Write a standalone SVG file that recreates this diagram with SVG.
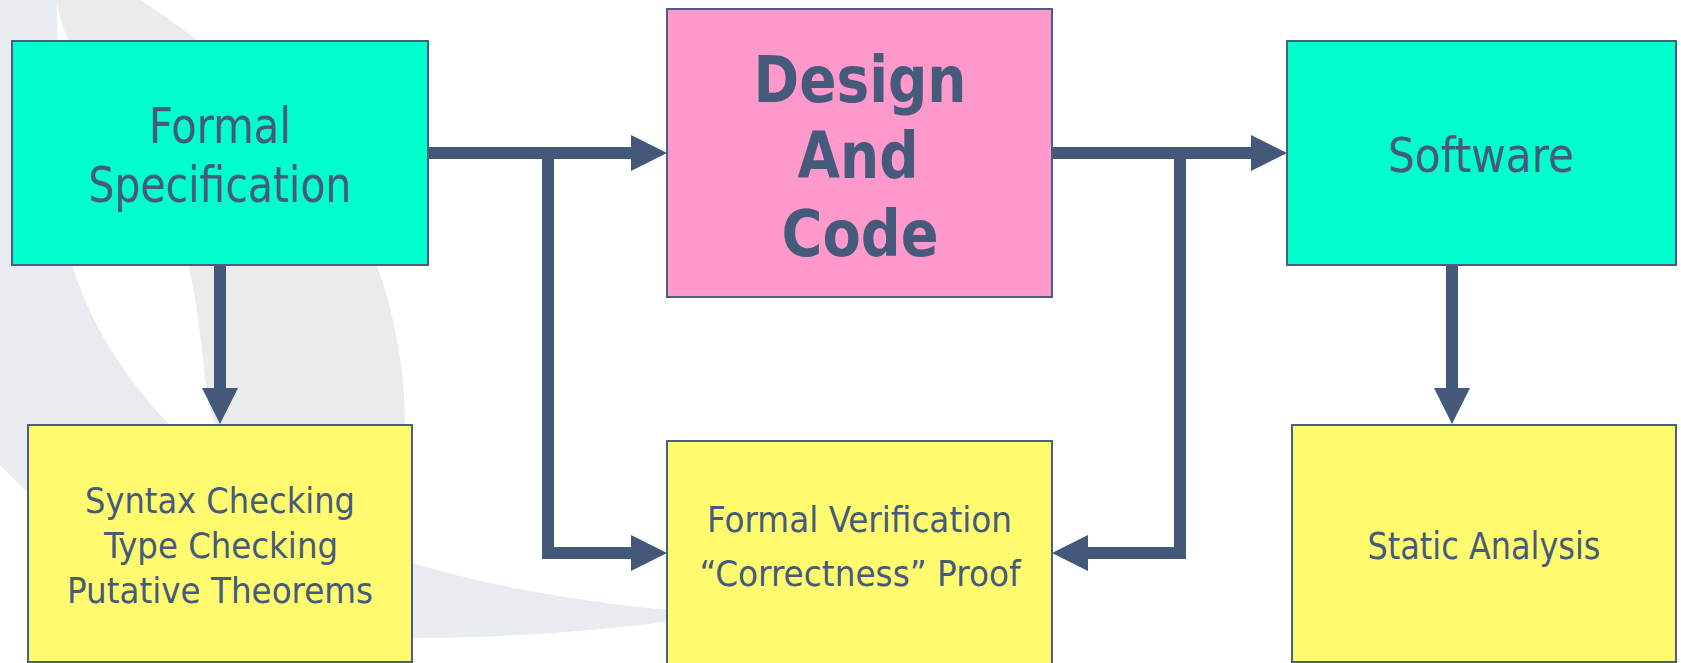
<svg xmlns="http://www.w3.org/2000/svg" width="1681" height="663" viewBox="0 0 1681 663">
  <defs>
    <style>
      .box { stroke: #4a5e80; stroke-width: 2; }
      .spec { fill: #00ffcc; }
      .code { fill: #ff99cc; }
      .check { fill: #fffa6e; }
      .label { font-family: "DejaVu Sans Condensed", "DejaVu Sans", sans-serif; fill: #465a7c; text-anchor: middle; }
      .bold { font-weight: bold; }
      .wire { fill: none; stroke: #44587a; stroke-width: 12; stroke-linejoin: miter; stroke-linecap: butt; }
    </style>
    <marker id="head" markerUnits="userSpaceOnUse" markerWidth="37" markerHeight="36" refX="1" refY="18" orient="auto" overflow="visible">
      <path d="M0,0 L36,18 L0,36 Z" fill="#44587a"/>
    </marker>
  </defs>

  <!-- page background with the faint swoosh -->
  <rect x="0" y="0" width="1681" height="663" fill="#ffffff"/>
  <g id="backdrop">
    <path d="M0 0 L57 0 L58 180 C62 300 130 400 230 480 C330 550 500 600 720 614 C650 625 550 637 420 638 C250 640 90 560 0 465 Z" fill="#e8ebf0"/>
    <path d="M57 0 L140 0 C280 90 370 200 395 330 C410 400 410 470 380 560 L300 600 C250 520 215 450 205 380 C200 320 192 280 185 250 C150 150 60 60 57 0 Z" fill="#ebebeb"/>
  </g>

  <!-- connectors -->
  <g id="connectors">
    <path class="wire" d="M428 153 H632" marker-end="url(#head)"/>
    <path class="wire" d="M548 153 V553 H632" marker-end="url(#head)"/>
    <path class="wire" d="M220 265 V389" marker-end="url(#head)"/>
    <path class="wire" d="M1052 153 H1252" marker-end="url(#head)"/>
    <path class="wire" d="M1180 153 V553 H1087" marker-end="url(#head)"/>
    <path class="wire" d="M1452 265 V389" marker-end="url(#head)"/>
  </g>

  <g id="formal-specification">
    <rect class="box spec" x="12" y="41" width="416" height="224"/>
    <text class="label" x="220" y="143" font-size="49" textLength="142" lengthAdjust="spacingAndGlyphs">Formal</text>
    <text class="label" x="220" y="202" font-size="49" textLength="263" lengthAdjust="spacingAndGlyphs">Specification</text>
  </g>

  <g id="design-and-code">
    <rect class="box code" x="667" y="9" width="385" height="288"/>
    <text class="label bold" x="860" y="102" font-size="64" textLength="213" lengthAdjust="spacingAndGlyphs">Design</text>
    <text class="label bold" x="858" y="178" font-size="64" textLength="121" lengthAdjust="spacingAndGlyphs">And</text>
    <text class="label bold" x="860" y="256" font-size="64" textLength="157" lengthAdjust="spacingAndGlyphs">Code</text>
  </g>

  <g id="software">
    <rect class="box spec" x="1287" y="41" width="389" height="224"/>
    <text class="label" x="1481" y="172" font-size="48" textLength="186" lengthAdjust="spacingAndGlyphs">Software</text>
  </g>

  <g id="syntax-checking">
    <rect class="box check" x="28" y="425" width="384" height="237"/>
    <text class="label" x="220" y="513" font-size="36" textLength="270" lengthAdjust="spacingAndGlyphs">Syntax Checking</text>
    <text class="label" x="221" y="558" font-size="36" textLength="234" lengthAdjust="spacingAndGlyphs">Type Checking</text>
    <text class="label" x="220" y="603" font-size="36" textLength="306" lengthAdjust="spacingAndGlyphs">Putative Theorems</text>
  </g>

  <g id="formal-verification">
    <rect class="box check" x="667" y="441" width="385" height="232"/>
    <text class="label" x="859.5" y="532" font-size="35.5" textLength="305" lengthAdjust="spacingAndGlyphs">Formal Verification</text>
    <text class="label" x="860" y="586" font-size="35.5" textLength="321" lengthAdjust="spacingAndGlyphs">“Correctness” Proof</text>
  </g>

  <g id="static-analysis">
    <rect class="box check" x="1292" y="425" width="384" height="237"/>
    <text class="label" x="1484" y="559" font-size="37" textLength="233" lengthAdjust="spacingAndGlyphs">Static Analysis</text>
  </g>
</svg>
